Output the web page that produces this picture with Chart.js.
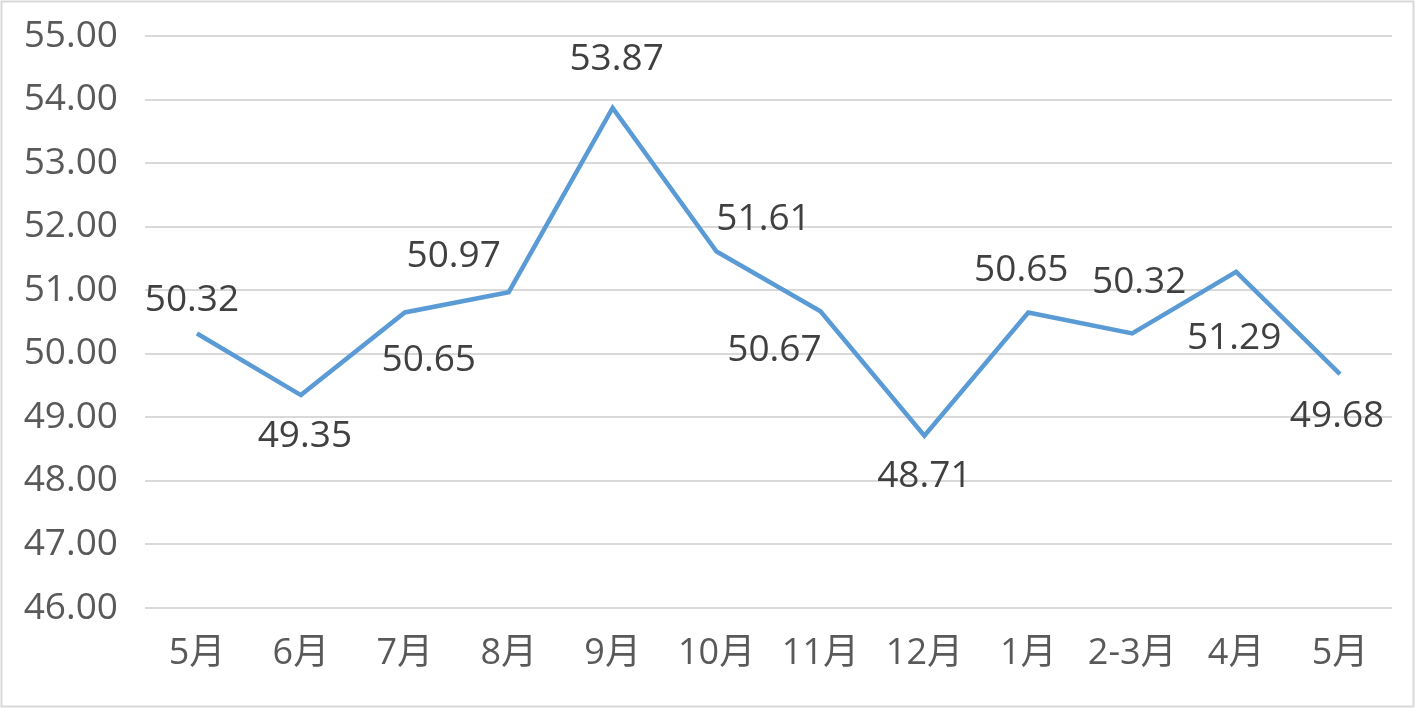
<!DOCTYPE html>
<html>
<head>
<meta charset="utf-8">
<script src="https://cdn.jsdelivr.net/npm/chart.js@4"></script>
<style>
  html, body { margin: 0; padding: 0; background: #fff; }
  #wrap { width: 1415px; height: 708px; }
</style>
</head>
<body>
<div id="wrap"><canvas id="chart" width="1415" height="708"></canvas></div>
<script>
const months = ['5月', '6月', '7月', '8月', '9月', '10月', '11月', '12月', '1月', '2-3月', '4月', '5月'];
const values = [50.32, 49.35, 50.65, 50.97, 53.87, 51.61, 50.67, 48.71, 50.65, 50.32, 51.29, 49.68];
const yMin = 46;
const yMax = 55;

// where each value label sits relative to its point (dx, dy)
const labelOffsets = [
	[-5, -33], [4, 41], [24, 48], [-55, -36], [4, -48], [47, -32],
	[-46, 39], [0, 41], [-7, -42], [7, -51], [-2, 67], [-3, 42]
];

const FONT = '"Open Sans", "Noto Sans CJK SC", sans-serif';

const frame = {
	id: 'frame',
	beforeDraw(chart) {
		const ctx = chart.ctx;
		ctx.save();
		ctx.fillStyle = '#fff';
		ctx.fillRect(0, 0, chart.width, chart.height);
		ctx.strokeStyle = '#d9d9d9';
		ctx.lineWidth = 2;
		ctx.strokeRect(1.5, 1.5, chart.width - 3, chart.height - 3);
		ctx.restore();
	}
};

const valueLabels = {
	id: 'valueLabels',
	afterDatasetsDraw(chart) {
		const ctx = chart.ctx;
		const meta = chart.getDatasetMeta(0);
		ctx.save();
		ctx.font = '37px ' + FONT;
		ctx.fillStyle = '#404040';
		ctx.textAlign = 'center';
		ctx.textBaseline = 'middle';
		meta.data.forEach((pt, i) => {
			const [dx, dy] = labelOffsets[i];
			ctx.fillText(values[i].toFixed(2), pt.x + dx, pt.y + dy);
		});
		ctx.restore();
	}
};

new Chart(document.getElementById('chart'), {
	type: 'line',
	data: {
		labels: months,
		datasets: [{
			data: values,
			borderColor: '#5b9bd5',
			borderWidth: 4.5,
			pointRadius: 0,
			tension: 0,
			fill: false
		}]
	},
	options: {
		responsive: false,
		animation: false,
		layout: { padding: { top: 36, right: 23, bottom: 0, left: 0 } },
		plugins: { legend: { display: false }, tooltip: { enabled: false } },
		scales: {
			x: {
				offset: true,
				grid: { display: false },
				border: { display: false },
				ticks: { color: '#595959', font: { family: FONT, size: 36 }, padding: 16, maxRotation: 0, autoSkip: false },
				afterFit: s => { s.height = 100; s.paddingLeft = 0; s.paddingRight = 0; }
			},
			y: {
				min: yMin,
				max: yMax,
				grid: { color: '#d9d9d9', lineWidth: 2, drawTicks: false },
				border: { display: false },
				ticks: {
					stepSize: 1,
					color: '#595959',
					padding: 27,
					font: { family: FONT, size: 37 },
					callback: v => v.toFixed(2)
				},
				afterFit: s => { s.width = 145; s.paddingTop = 0; s.paddingBottom = 0; }
			}
		}
	},
	plugins: [frame, valueLabels]
});
</script>
</body>
</html>
